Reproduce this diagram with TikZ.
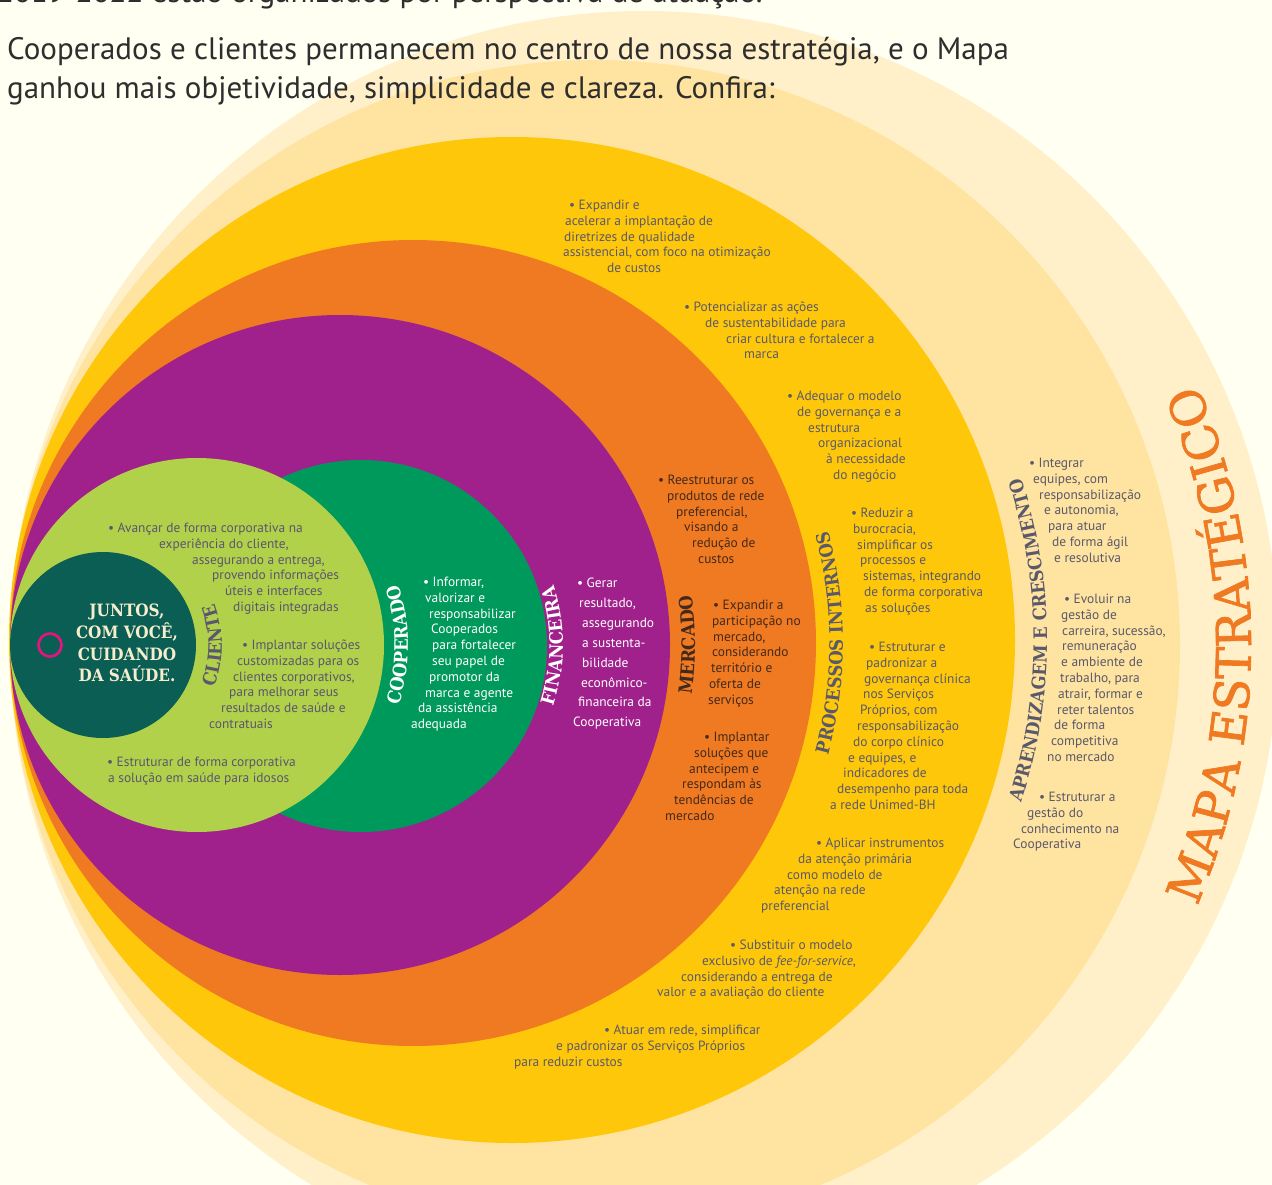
\documentclass[tikz,border=0pt]{standalone}
\usepackage{fontspec}
\setmainfont{PT Sans}
\newfontfamily\slab[FakeStretch=0.9]{DejaVu Serif}
\newfontfamily\slabwide[FakeBold=1.5]{DejaVu Serif}
\usetikzlibrary{decorations.text}

\definecolor{bgcream}{HTML}{FFFFF2}
\definecolor{ringpale}{HTML}{FFF0CA}
\definecolor{ringlight}{HTML}{FFE3A0}
\definecolor{ringyellow}{HTML}{FFC709}
\definecolor{ringorange}{HTML}{F07A21}
\definecolor{ringpurple}{HTML}{A0218B}
\definecolor{ringgreen}{HTML}{00995C}
\definecolor{ringlime}{HTML}{B1D14A}
\definecolor{ringdark}{HTML}{0B5E54}
\definecolor{ringpink}{HTML}{E2157F}
\definecolor{txtgrey}{HTML}{5A596B}
\definecolor{txtlime}{HTML}{5B5570}
\definecolor{txtbrown}{HTML}{42291B}
\definecolor{txtcream}{HTML}{F6EDCD}
\definecolor{txthead}{HTML}{2E2E2E}

\newcommand{\bl}{\makebox[9.5pt][l]{\textbullet}}
\newcommand{\ind}[1]{\hspace*{#1pt}}
\newcommand{\goalfont}{\fontsize{13.4pt}{15.8pt}\selectfont}
\newcommand{\finfont}{\fontsize{13.4pt}{19.9pt}\selectfont}
\newcommand{\lblfont}{\slab\bfseries\fontsize{18.5pt}{18.5pt}\selectfont}
\newcommand{\mapafont}{\slabwide\fontsize{48pt}{48pt}\selectfont}
% ring: centre x, centre y, radius, colour
\newcommand{\ring}[4]{\fill[#4] (#1,-#2) circle (#3);}
% curved label: centre x, centre y, radius, half angle, options, text
\newcommand{\arclabel}[6]{\path[shift={(#1,-#2)},decorate,decoration={text along path,text align=center,#5,text={#6}}] (-#4:#3) arc[start angle=-#4,end angle=#4,radius=#3];}

\begin{document}
\begin{tikzpicture}[x=1pt,y=1pt,
    goal/.style={anchor=base west,align=left,inner sep=0pt,font=\goalfont,
        yshift={-(#1-1)*15.8pt}},
    goalwide/.style={anchor=base west,align=left,inner sep=0pt,font=\finfont,
        yshift={-(#1-1)*19.9pt}},
    header/.style={anchor=base west,align=left,inner sep=0pt,text=txthead,
        font=\fontsize{31pt}{38.5pt}\selectfont},
    juntos/.style={align=center,inner sep=0pt,text=txtcream,
        font=\slab\bfseries\fontsize{17pt}{21.7pt}\selectfont}]
    \useasboundingbox (0,0) rectangle (1272,-1185);
    \clip (0,0) rectangle (1272,-1185);
    \fill[bgcream] (0,0) rectangle (1272,-1185);

    % rings, outside in
    \ring{644}{645}{634}{ringpale}
    \ring{595}{645}{585}{ringlight}
    \ring{512}{640}{503}{ringyellow}
    \ring{413}{643}{403}{ringorange}
    \ring{340}{645}{330}{ringpurple}
    \ring{361}{646}{186}{ringgreen}
    \ring{197}{645}{187}{ringlime}
    \ring{103}{645}{93}{ringdark}
    \draw[ringpink,line width=2.7pt] (50,-645) circle (11.5);

    \node[header] (prev) at (-3,-3) {2019-2022 estão organizados por perspectiva de atuação.};
    \node[header] (intro) at (7,-98.5) {Cooperados e clientes permanecem no centro de nossa estratégia, e o Mapa\\ganhou mais objetividade, simplicidade e clareza. Confira:};

    \node[juntos] (lema) at (127,-643) {JUNTOS,\\COM VOCÊ,\\CUIDANDO\\DA SAÚDE.};

    % curved titles
    \arclabel{103}{645}{119}{40}{text color=txtlime}{|\lblfont|CLIENTE}
    \arclabel{197}{645}{211}{30}{text color=white}{|\lblfont|COOPERADO}
    \arclabel{361}{646}{202}{35}{text color=white}{|\lblfont|FINANCEIRA}
    \arclabel{340}{645}{355}{20}{text color=txtbrown}{|\lblfont|MERCADO}
    \arclabel{413}{643}{430}{25}{text color=txtgrey}{|\lblfont|PROCESSOS INTERNOS}
    \arclabel{512}{640}{535}{30}{text color=txtgrey}{|\lblfont|APRENDIZAGEM E CRESCIMENTO}
    \arclabel{595}{645}{656}{35}{text color=ringorange}{|\mapafont|MAPA ESTRATÉGICO}

    % cliente
    \node[goal=6,text=txtlime] (cli1) at (108,-532.5) {\bl Avançar de forma corporativa na\\ \ind{51}experiência do cliente,\\ \ind{84}assegurando a entrega,\\ \ind{104}provendo informações\\ \ind{117}úteis e interfaces\\ \ind{125}digitais integradas};
    \node[goal=6,text=txtlime] (cli2) at (209,-649.5) {\ind{33}\bl Implantar soluções\\ \ind{28}customizadas para os\\ \ind{24}clientes corporativos,\\ \ind{20}para melhorar seus\\ \ind{12}resultados de saúde e\\ contratuais};
    \node[goal=2,text=txtlime] (cli3) at (107,-766.5) {\bl Estruturar de forma corporativa\\ \ind{1}a solução em saúde para idosos};

    % cooperado
    \node[goal=10,text=white] (coop) at (411,-586.5) {\ind{12}\bl Informar,\\ \ind{14}valorizar e\\ \ind{18}responsabilizar\\ \ind{20}Cooperados\\ \ind{21}para fortalecer\\ \ind{21}seu papel de\\ \ind{18}promotor da\\ \ind{14}marca e agente\\ \ind{7}da assistência\\ adequada};

    % financeira
    \node[goalwide=8,text=white] (fin) at (573,-587.5) {\ind{4}\bl Gerar\\ \ind{6}resultado,\\ \ind{9}assegurando\\ \ind{9}a sustenta-\\ \ind{9}bilidade\\ \ind{8}econômico-\\ \ind{5}financeira da\\ Cooperativa};

    % mercado
    \node[goal=6,text=txtbrown] (merc1) at (658,-484.5) {\bl Reestruturar os\\ \ind{9}produtos de rede\\ \ind{18}preferencial,\\ \ind{26}visando a\\ \ind{34}redução de\\ \ind{40}custos};
    \node[goal=7,text=txtbrown] (merc2) at (708,-609.5) {\ind{5}\bl Expandir a\\ \ind{4}participação no\\ \ind{5}mercado,\\ \ind{4}considerando\\ \ind{3}território e\\ \ind{1}oferta de\\ serviços};
    \node[goal=6,text=txtbrown] (merc3) at (665,-741.5) {\ind{39}\bl Implantar\\ \ind{29}soluções que\\ \ind{24}antecipem e\\ \ind{17}respondam às\\ \ind{9}tendências de\\ mercado};

    % processos internos
    \node[goal=5,text=txtgrey] (proc1) at (563,-209.5) {\ind{6}\bl Expandir e\\ \ind{2}acelerar a implantação de\\ \ind{1}diretrizes de qualidade\\ assistencial, com foco na otimização\\ \ind{44}de custos};
    \node[goal=4,text=txtgrey] (proc2) at (684,-311.5) {\bl Potencializar as ações\\ \ind{21}de sustentabilidade para\\ \ind{42}criar cultura e fortalecer a\\ \ind{60}marca};
    \node[goal=6,text=txtgrey] (proc3) at (787,-400.5) {\bl Adequar o modelo\\ \ind{10}de governança e a\\ \ind{21}estrutura\\ \ind{31}organizacional\\ \ind{39}à necessidade\\ \ind{46}do negócio};
    \node[goal=7,text=txtgrey] (proc4) at (851,-517.5) {\bl Reduzir a\\ \ind{2}burocracia,\\ \ind{6}simplificar os\\ \ind{9}processos e\\ \ind{12}sistemas, integrando\\ \ind{13}de forma corporativa\\ \ind{14}as soluções};
    \node[goal=11,text=txtgrey] (proc5) at (830,-651.5) {\ind{39}\bl Estruturar e\\ \ind{36}padronizar a\\ \ind{34}governança clínica\\ \ind{33}nos Serviços\\ \ind{30}Próprios, com\\ \ind{27}responsabilização\\ \ind{23}do corpo clínico\\ \ind{18}e equipes, e\\ \ind{13}indicadores de\\ \ind{7}desempenho para toda\\ a rede Unimed-BH};
    \node[goal=5,text=txtgrey] (proc6) at (761,-847.5) {\ind{55}\bl Aplicar instrumentos\\ \ind{37}da atenção primária\\ \ind{26}como modelo de\\ \ind{13}atenção na rede\\ preferencial};
    \node[goal=4,text=txtgrey] (proc7) at (657,-949.5) {\ind{73}\bl Substituir o modelo\\ \ind{45}exclusivo de \textit{fee-for-service},\\ \ind{24}considerando a entrega de\\ valor e a avaliação do cliente};
    \node[goal=3,text=txtgrey] (proc8) at (514,-1034.5) {\ind{90}\bl Atuar em rede, simplificar\\ \ind{42}e padronizar os Serviços Próprios\\ para reduzir custos};

    % aprendizagem e crescimento
    \node[goal=7,text=txtgrey] (apr1) at (1029,-467.5) {\bl Integrar\\ \ind{4}equipes, com\\ \ind{10}responsabilização\\ \ind{15}e autonomia,\\ \ind{19}para atuar\\ \ind{23}de forma ágil\\ \ind{25}e resolutiva};
    \node[goal=11,text=txtgrey] (apr2) at (1047,-603.5) {\ind{17}\bl Evoluir na\\ \ind{14}gestão de\\ \ind{15}carreira, sucessão,\\ \ind{15}remuneração\\ \ind{14}e ambiente de\\ \ind{13}trabalho, para\\ \ind{11}atrair, formar e\\ \ind{10}reter talentos\\ \ind{7}de forma\\ \ind{4}competitiva\\ no mercado};
    \node[goal=4,text=txtgrey] (apr3) at (1013,-801.5) {\ind{26}\bl Estruturar a\\ \ind{14}gestão do\\ \ind{8}conhecimento na\\ Cooperativa};
\end{tikzpicture}
\end{document}
